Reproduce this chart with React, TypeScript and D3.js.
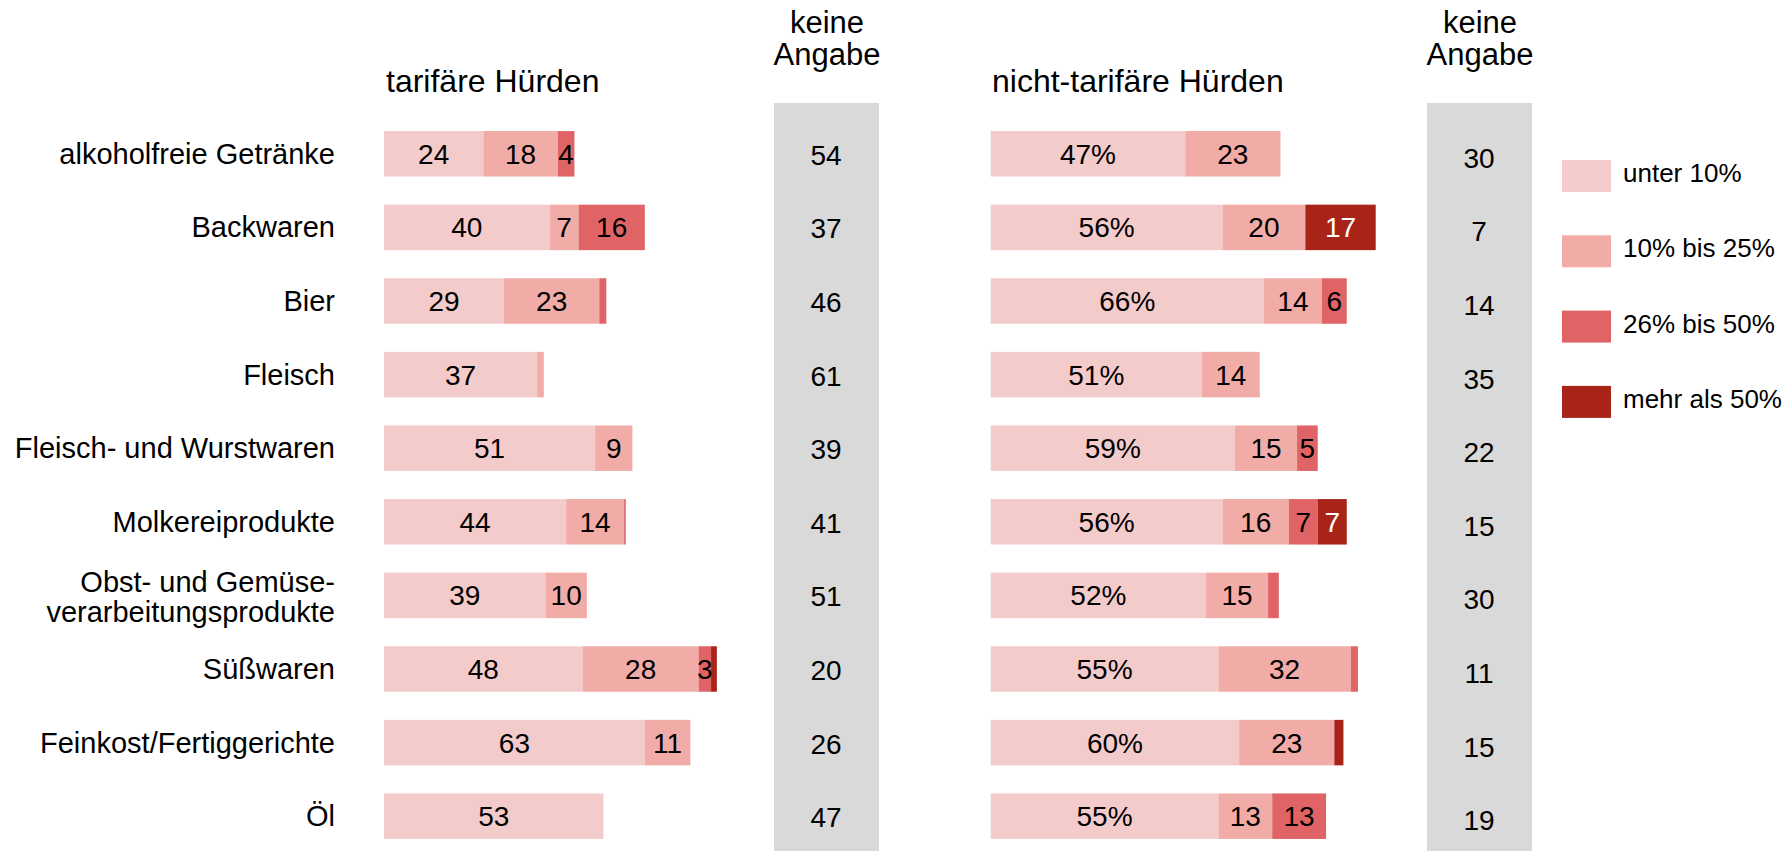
import React from "react";
import * as d3 from "d3";

const categories = [
  "alkoholfreie Getränke",
  "Backwaren",
  "Bier",
  "Fleisch",
  "Fleisch- und Wurstwaren",
  "Molkereiprodukte",
  "Obst- und Gemüse-\nverarbeitungsprodukte",
  "Süßwaren",
  "Feinkost/Fertiggerichte",
  "Öl",
];

const seriesNames = ["unter 10%", "10% bis 25%", "26% bis 50%", "mehr als 50%"];
const seriesColors = ["#f4cbcb", "#f2aca7", "#e06466", "#a82418"];

// tarifäre Hürden: [unter 10%, 10-25%, 26-50%, >50%]
const tariffValues = [
  [24, 18, 4, 0],
  [40, 7, 16, 0],
  [29, 23, 1.7, 0],
  [37, 1.6, 0, 0],
  [51, 9, 0, 0],
  [44, 14, 0.4, 0],
  [39, 10, 0, 0],
  [48, 28, 3, 1.4],
  [63, 11, 0, 0],
  [53, 0, 0, 0],
];
const tariffNoAnswer = [54, 37, 46, 61, 39, 41, 51, 20, 26, 47];

// nicht-tarifäre Hürden
const nonTariffValues = [
  [47, 23, 0, 0],
  [56, 20, 0, 17],
  [66, 14, 6, 0],
  [51, 14, 0, 0],
  [59, 15, 5, 0],
  [56, 16, 7, 7],
  [52, 15, 2.6, 0],
  [55, 32, 1.7, 0],
  [60, 23, 0, 2.2],
  [55, 13, 13, 0],
];
const nonTariffNoAnswer = [30, 7, 14, 35, 22, 15, 30, 11, 15, 19];

const FONT = "'Liberation Sans', Arial, Helvetica, sans-serif";

export default function App() {
  if (typeof document !== "undefined") {
    document.body.style.margin = "0";
    document.body.style.overflow = "hidden";
  }
  const W = 1790;
  const H = 851;

  const y = d3
    .scaleBand<string>()
    .domain(categories)
    .range([117, 853])
    .paddingInner(0.382)
    .paddingOuter(0.191);

  const xLeft = d3.scaleLinear().domain([0, 100]).range([384, 384 + 414]);
  const xRight = d3.scaleLinear().domain([0, 100]).range([990.7, 990.7 + 414]);

  const stack = (vals: number[][]) =>
    vals.map((row) => {
      let acc = 0;
      return row.map((v, i) => {
        const s = { x0: acc, x1: acc + v, v, i };
        acc += v;
        return s;
      });
    });

  const leftStack = stack(tariffValues);
  const rightStack = stack(nonTariffValues);

  const renderBars = (
    st: { x0: number; x1: number; v: number; i: number }[][],
    x: d3.ScaleLinear<number, number>,
    pct: boolean
  ) =>
    categories.map((c, ri) => {
      const y0 = y(c)!;
      const bw = y.bandwidth();
      const cy = y0 + bw / 2;
      return (
        <g key={c}>
          {st[ri]
            .filter((s) => s.v > 0)
            .map((s) => (
              <rect
                key={s.i}
                x={x(s.x0)}
                y={y0}
                width={x(s.x1) - x(s.x0)}
                height={bw}
                fill={seriesColors[s.i]}
              />
            ))}
          {st[ri]
            .filter((s) => s.v >= 3)
            .map((s) => (
              <text
                key={"t" + s.i}
                x={(x(s.x0) + x(s.x1)) / 2}
                y={cy + 10}
                textAnchor="middle"
                fontSize={28}
                fill={s.i === 3 ? "#ffffff" : "#000000"}
              >
                {Math.round(s.v) + (pct && s.i === 0 ? "%" : "")}
              </text>
            ))}
        </g>
      );
    });

  return (
    <svg
      width={W}
      height={H}
      style={{ position: "absolute", left: 0, top: 0, fontFamily: FONT }}
    >
      <rect x={0} y={0} width={W} height={H} fill="#ffffff" />

      {/* headings */}
      <text x={386} y={92} fontSize={32}>tarifäre Hürden</text>
      <text x={992} y={92} fontSize={32}>nicht-tarifäre Hürden</text>
      <text x={827} y={33} fontSize={31} textAnchor="middle">keine</text>
      <text x={827} y={65} fontSize={31} textAnchor="middle">Angabe</text>
      <text x={1480} y={33} fontSize={31} textAnchor="middle">keine</text>
      <text x={1480} y={65} fontSize={31} textAnchor="middle">Angabe</text>

      {/* gray columns */}
      <rect x={774} y={103} width={105} height={H - 103} fill="#d9d9d9" />
      <rect x={1427} y={103} width={105} height={H - 103} fill="#d9d9d9" />

      {/* category labels */}
      {categories.map((c) => {
        const cy = y(c)! + y.bandwidth() / 2;
        const lines = c.split("\n");
        return (
          <text key={c} x={335} fontSize={29} textAnchor="end">
            {lines.length === 1 ? (
              <tspan x={335} y={cy + 10}>{c}</tspan>
            ) : (
              lines.map((l, i) => (
                <tspan key={i} x={335} y={cy - 3 + i * 30}>{l}</tspan>
              ))
            )}
          </text>
        );
      })}

      {renderBars(leftStack, xLeft, false)}
      {renderBars(rightStack, xRight, true)}

      {/* keine Angabe numbers */}
      {categories.map((c, i) => {
        const cy = y(c)! + y.bandwidth() / 2;
        return (
          <g key={"na" + i}>
            <text x={826} y={cy + 11} fontSize={28} textAnchor="middle">
              {tariffNoAnswer[i]}
            </text>
            <text x={1479} y={cy + 14} fontSize={28} textAnchor="middle">
              {nonTariffNoAnswer[i]}
            </text>
          </g>
        );
      })}

      {/* legend */}
      {seriesNames.map((n, i) => (
        <g key={n}>
          <rect x={1562} y={160 + i * 75.3} width={49} height={32} fill={seriesColors[i]} />
          <text x={1623} y={182 + i * 75.3} fontSize={26}>{n}</text>
        </g>
      ))}
    </svg>
  );
}
